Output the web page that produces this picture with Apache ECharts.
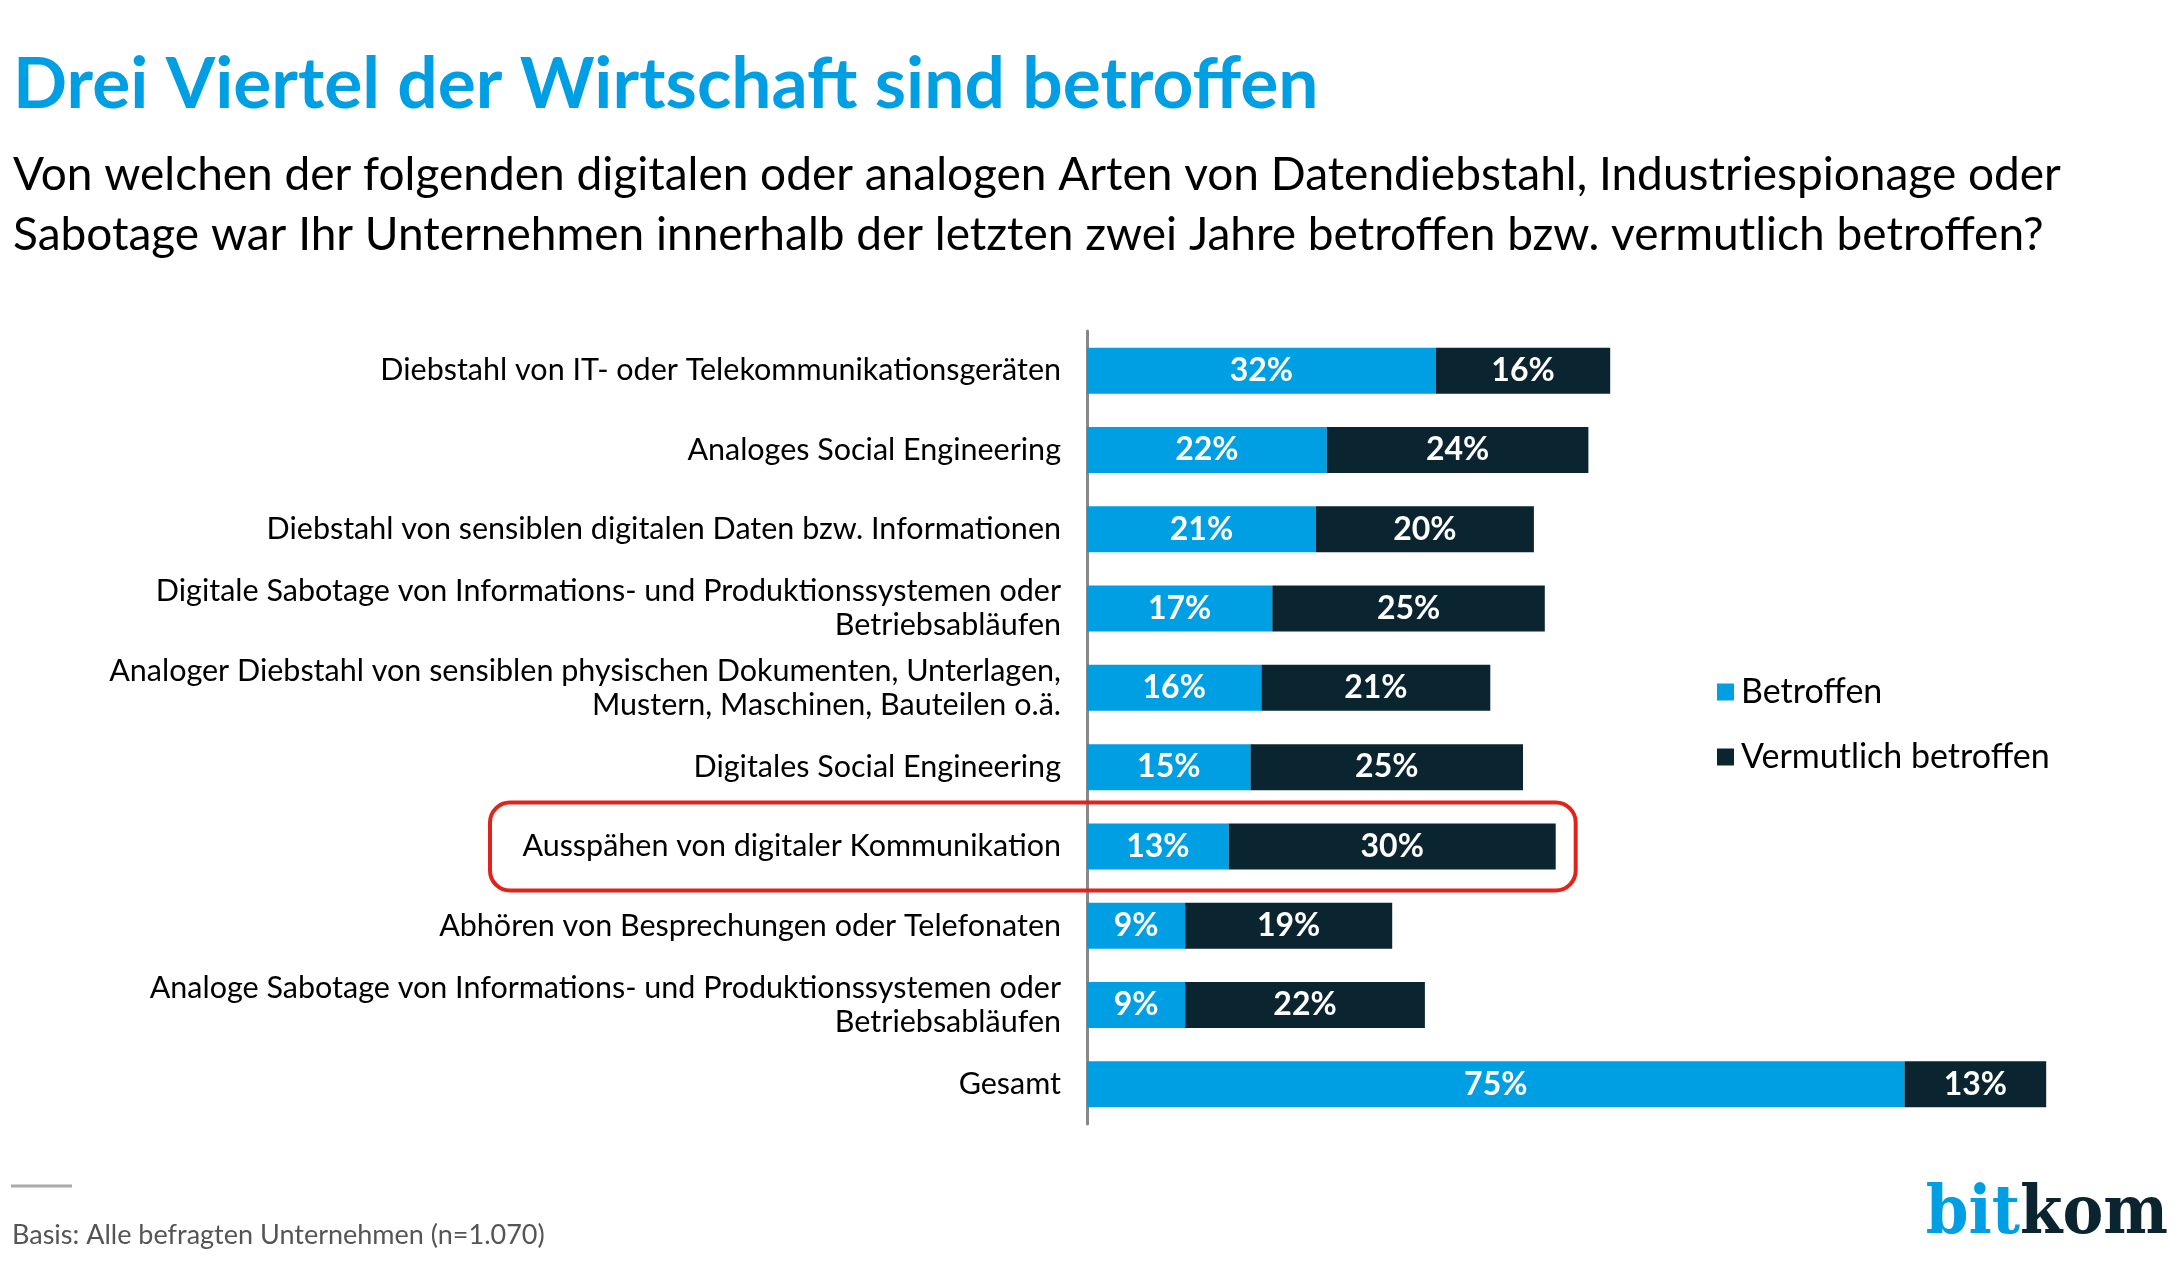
<!DOCTYPE html>
<html><head><meta charset="utf-8">
<script src="https://cdn.jsdelivr.net/npm/echarts@6/dist/echarts.min.js"></script>
<style>html,body{margin:0;padding:0;background:#fff}#c{width:2181px;height:1265px}</style>
</head><body><div id="c"></div>
<script>
var categories = [
  'Diebstahl von IT- oder Telekommunikationsgeräten',
  'Analoges Social Engineering',
  'Diebstahl von sensiblen digitalen Daten bzw. Informationen',
  'Digitale Sabotage von Informations- und Produktionssystemen oder\nBetriebsabläufen',
  'Analoger Diebstahl von sensiblen physischen Dokumenten, Unterlagen,\nMustern, Maschinen, Bauteilen o.ä.',
  'Digitales Social Engineering',
  'Ausspähen von digitaler Kommunikation',
  'Abhören von Besprechungen oder Telefonaten',
  'Analoge Sabotage von Informations- und Produktionssystemen oder\nBetriebsabläufen',
  'Gesamt'
];
var betroffen = [32, 22, 21, 17, 16, 15, 13, 9, 9, 75];
var vermutlich = [16, 24, 20, 25, 21, 25, 30, 19, 22, 13];
var seriesNames = ['Betroffen', 'Vermutlich betroffen'];
var highlightIndex = 6;

var FONT = 'Lato, "Noto Sans", sans-serif';
var BLUE = '#009FE3', DARK = '#0A2530';
var chart = echarts.init(document.getElementById('c'));
var lbl = {show: true, position: 'inside', color: '#fff', fontFamily: FONT, fontWeight: 'bold', fontSize: 32, formatter: '{c}%'};
chart.setOption({
  animation: false,
  title: [
    {text: 'Drei Viertel der Wirtschaft sind betroffen', left: 8, top: 45,
     textStyle: {color: BLUE, fontFamily: FONT, fontWeight: 'bold', fontSize: 71.3}},
    {text: 'Von welchen der folgenden digitalen oder analogen Arten von Datendiebstahl, Industriespionage oder\nSabotage war Ihr Unternehmen innerhalb der letzten zwei Jahre betroffen bzw. vermutlich betroffen?',
     left: 8, top: 140, textStyle: {color: '#000', fontFamily: FONT, fontWeight: 'normal', fontSize: 46, lineHeight: 60}},
    {text: 'Basis: Alle befragten Unternehmen (n=1.070)', left: 7, top: 1217,
     textStyle: {color: '#555', fontFamily: FONT, fontWeight: 'normal', fontSize: 27}},
    {text: '{a|bit}{b|kom}', right: 8, top: 1176,
     textStyle: {rich: {a: {color: BLUE, fontFamily: '"DejaVu Serif Condensed", "DejaVu Serif", serif', fontWeight: 'bold', fontSize: 68},
                        b: {color: DARK, fontFamily: '"DejaVu Serif Condensed", "DejaVu Serif", serif', fontWeight: 'bold', fontSize: 68}}}}
  ],
  legend: {orient: 'vertical', left: 1712, top: 670, itemGap: 31, itemWidth: 17, itemHeight: 17,
    icon: 'rect', textStyle: {fontFamily: FONT, fontSize: 34, color: '#000', padding: [0,0,0,2]}},
  grid: {left: 1087, top: 331, width: 1090, height: 793, containLabel: false},
  xAxis: {type: 'value', min: 0, max: 100, show: false},
  yAxis: {type: 'category', data: categories, inverse: true,
    axisLine: {show: true, lineStyle: {color: '#888', width: 3}},
    axisTick: {show: false},
    axisLabel: {margin: 26, color: '#000', fontFamily: FONT, fontSize: 30.5, lineHeight: 34, align: 'right'}},
  series: [
    {name: seriesNames[0], type: 'bar', stack: 's', data: betroffen, barWidth: 46, itemStyle: {color: BLUE}, label: lbl},
    {name: seriesNames[1], type: 'bar', stack: 's', data: vermutlich, barWidth: 46, itemStyle: {color: DARK}, label: lbl}
  ]
});
// highlight box around one category, positioned from the axis scales
var yC = chart.convertToPixel({yAxisIndex: 0}, categories[highlightIndex]);
var xEnd = chart.convertToPixel({xAxisIndex: 0}, betroffen[highlightIndex] + vermutlich[highlightIndex]);
chart.setOption({graphic: [
  {type: 'rect', shape: {x: 490, y: yC - 44, width: xEnd + 20 - 490, height: 88, r: 20},
   style: {fill: 'none', stroke: '#E2231A', lineWidth: 4}, z: 100},
  {type: 'line', shape: {x1: 11, y1: 1186, x2: 72, y2: 1186}, style: {stroke: '#AAA', lineWidth: 3}}
]});
</script></body></html>
